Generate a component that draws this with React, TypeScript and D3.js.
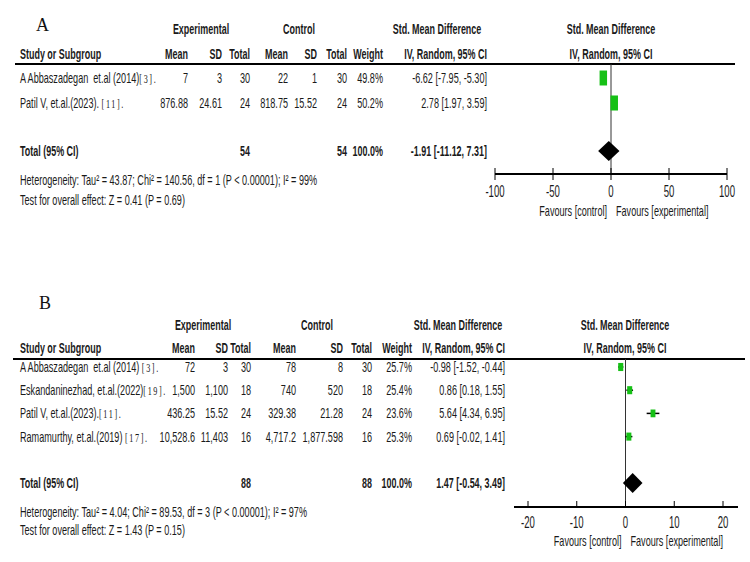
import React from "react";
import * as d3 from "d3";

// ---------- Panel A data ----------
const aStudies = ["A Abbaszadegan  et.al (2014)", "Patil V, et.al.(2023). "];
const aRefs = ["[3].", "[11]."];
const aExpMean = ["7", "876.88"];
const aExpSD = ["3", "24.61"];
const aExpN = [30, 24];
const aCtlMean = ["22", "818.75"];
const aCtlSD = ["1", "15.52"];
const aCtlN = [30, 24];
const aWeight = [49.8, 50.2];
const aSMD = [-6.62, 2.78];
const aLo = [-7.95, 1.97];
const aHi = [-5.3, 3.59];
const aTotals = [54, 54];
const aPooled = [-1.91, -11.12, 7.31];
const aHet = "Heterogeneity: Tau² = 43.87; Chi² = 140.56, df = 1 (P < 0.00001); I² = 99%";
const aTest = "Test for overall effect: Z = 0.41 (P = 0.69)";
const aTicks = [-100, -50, 0, 50, 100];
const aDomain = [-100, 100];

// ---------- Panel B data ----------
const bStudies = [
  "A Abbaszadegan  et.al (2014) ",
  "Eskandaninezhad, et.al.(2022)",
  "Patil V, et.al.(2023).",
  "Ramamurthy, et.al.(2019) ",
];
const bRefs = ["[3].", "[19].", "[11].", "[17]."];
const bExpMean = ["72", "1,500", "436.25", "10,528.6"];
const bExpSD = ["3", "1,100", "15.52", "11,403"];
const bExpN = [30, 18, 24, 16];
const bCtlMean = ["78", "740", "329.38", "4,717.2"];
const bCtlSD = ["8", "520", "21.28", "1,877.598"];
const bCtlN = [30, 18, 24, 16];
const bWeight = [25.7, 25.4, 23.6, 25.3];
const bSMD = [-0.98, 0.86, 5.64, 0.69];
const bLo = [-1.52, 0.18, 4.34, -0.02];
const bHi = [-0.44, 1.55, 6.95, 1.41];
const bTotals = [88, 88];
const bPooled = [1.47, -0.54, 3.49];
const bHet = "Heterogeneity: Tau² = 4.04; Chi² = 89.53, df = 3 (P < 0.00001); I² = 97%";
const bTest = "Test for overall effect: Z = 1.43 (P = 0.15)";
const bTicks = [-20, -10, 0, 10, 20];
const bDomain = [-20, 20];

// ---------- styling / layout ----------
const FONT = "'Liberation Sans', Arial, sans-serif";
const TXT = "#1a1a1a";
const GREEN = "#16c016";

function T({ x, y, children, anchor = "start", bold = false, size = 14, sx }: any) {
  const s = sx ?? (bold ? 0.64 : 0.65);
  return (
    <text
      transform={`translate(${x},${y}) scale(${s},1)`}
      textAnchor={anchor}
      fontWeight={bold ? 700 : 400}
      fontSize={size}
      fontFamily={FONT}
      fill={TXT}
      style={{ whiteSpace: "pre" }}
    >
      {children}
    </text>
  );
}

const fmt2 = (v: number) => v.toFixed(2);
const ciStr = (e: number, l: number, h: number) => `${fmt2(e)} [${fmt2(l)}, ${fmt2(h)}]`;

function Panel({ d, L }: any) {
  const x = d3.scaleLinear().domain(d.domain).range(L.range);
  const sqW = d3.scaleSqrt().domain([0, 100]).range([0, L.sqMax]);
  const rowY = (i: number) => L.rowY0 + i * L.rowStep;
  const c = L.cols;
  const [pe, pl, ph] = d.pooled;
  const diamond = d3.line()([
    [x(pl), L.totalY],
    [x(pe), L.totalY - L.dH],
    [x(ph), L.totalY],
    [x(pe), L.totalY + L.dH],
  ]) + "Z";
  const x0 = x(0);
  const b = 5;
  return (
    <g>
      <text x={L.letterX} y={L.letterY} fontFamily="'Liberation Serif', serif" fontSize={18} fill="#111">
        {L.letter}
      </text>
      <T x={L.expHdrX} y={L.hdr1Y} anchor="middle" bold>Experimental</T>
      <T x={L.ctlHdrX} y={L.hdr1Y} anchor="middle" bold>Control</T>
      <T x={L.ciHdrX} y={L.hdr1Y} anchor="middle" bold>Std. Mean Difference</T>
      <T x={L.plotHdrX} y={L.hdr1Y} anchor="middle" bold>Std. Mean Difference</T>
      <T x={L.nameX} y={L.hdr2Y} bold>Study or Subgroup</T>
      <T x={c.expMean} y={L.hdr2Y} anchor="end" bold>Mean</T>
      <T x={c.expSD} y={L.hdr2Y} anchor="end" bold>SD</T>
      <T x={c.expN} y={L.hdr2Y} anchor="end" bold>Total</T>
      <T x={c.ctlMean} y={L.hdr2Y} anchor="end" bold>Mean</T>
      <T x={c.ctlSD} y={L.hdr2Y} anchor="end" bold>SD</T>
      <T x={c.ctlN} y={L.hdr2Y} anchor="end" bold>Total</T>
      <T x={c.weight} y={L.hdr2Y} anchor="end" bold>Weight</T>
      <T x={c.ci} y={L.hdr2Y} anchor="end" bold>IV, Random, 95% CI</T>
      <T x={L.plotHdrX} y={L.hdr2Y} anchor="middle" bold>IV, Random, 95% CI</T>
      <line x1={L.lineX0} x2={L.lineX1} y1={L.lineY} y2={L.lineY} stroke="#000" strokeWidth={2} />

      {d.studies.map((s: string, i: number) => {
        const y = rowY(i) + b;
        return (
          <g key={i}>
            <T x={L.nameX} y={y}>
              {s}
              <tspan fontFamily="'Liberation Serif', serif" fontSize={12.5} letterSpacing={2.5}>{d.refs[i]}</tspan>
            </T>
            <T x={c.expMean} y={y} anchor="end">{d.expMean[i]}</T>
            <T x={c.expSD} y={y} anchor="end">{d.expSD[i]}</T>
            <T x={c.expN} y={y} anchor="end">{d.expN[i]}</T>
            <T x={c.ctlMean} y={y} anchor="end">{d.ctlMean[i]}</T>
            <T x={c.ctlSD} y={y} anchor="end">{d.ctlSD[i]}</T>
            <T x={c.ctlN} y={y} anchor="end">{d.ctlN[i]}</T>
            <T x={c.weight} y={y} anchor="end">{d.weight[i].toFixed(1) + "%"}</T>
            <T x={c.ci} y={y} anchor="end">{ciStr(d.smd[i], d.lo[i], d.hi[i])}</T>
          </g>
        );
      })}

      <T x={L.nameX} y={L.totalY + b} bold>Total (95% CI)</T>
      <T x={c.expN} y={L.totalY + b} anchor="end" bold>{d.totals[0]}</T>
      <T x={c.ctlN} y={L.totalY + b} anchor="end" bold>{d.totals[1]}</T>
      <T x={c.weight} y={L.totalY + b} anchor="end" bold>100.0%</T>
      <T x={c.ci} y={L.totalY + b} anchor="end" bold>{ciStr(pe, pl, ph)}</T>
      <T x={L.nameX} y={L.hetY}>{d.het}</T>
      <T x={L.nameX} y={L.testY}>{d.test}</T>

      {/* plot */}
      <line x1={x0} x2={x0} y1={L.lineY} y2={L.axisY} stroke="#333" strokeWidth={1} />
      {d.studies.map((s: string, i: number) => {
        const y = rowY(i);
        const w = sqW(d.weight[i]);
        const h = w * L.sqAspect;
        return (
          <g key={"m" + i}>
            <line x1={x(d.lo[i])} x2={x(d.hi[i])} y1={y} y2={y} stroke="#000" strokeWidth={1.5} />
            <rect x={x(d.smd[i]) - w / 2} y={y - h / 2} width={w} height={h} fill={GREEN} />
          </g>
        );
      })}
      <path d={diamond} fill="#000" />
      <line x1={L.axisX[0]} x2={L.axisX[1]} y1={L.axisY} y2={L.axisY} stroke="#000" strokeWidth={2} />
      {d.ticks.map((t: number) => (
        <g key={"t" + t}>
          <line x1={x(t)} x2={x(t)} y1={L.axisY - L.tickUp} y2={L.axisY + L.tickDown} stroke="#000" strokeWidth={1} />
          <T x={x(t)} y={L.tickLblY} anchor="middle" size={16} sx={0.6}>{t}</T>
        </g>
      ))}
      <T x={x0 - 4} y={L.favY} anchor="end">Favours [control]</T>
      <T x={x0 + 5} y={L.favY}>Favours [experimental]</T>
    </g>
  );
}

const dataA = {
  studies: aStudies, refs: aRefs, expMean: aExpMean, expSD: aExpSD, expN: aExpN,
  ctlMean: aCtlMean, ctlSD: aCtlSD, ctlN: aCtlN, weight: aWeight, smd: aSMD, lo: aLo, hi: aHi,
  totals: aTotals, pooled: aPooled, het: aHet, test: aTest, ticks: aTicks, domain: aDomain,
};
const dataB = {
  studies: bStudies, refs: bRefs, expMean: bExpMean, expSD: bExpSD, expN: bExpN,
  ctlMean: bCtlMean, ctlSD: bCtlSD, ctlN: bCtlN, weight: bWeight, smd: bSMD, lo: bLo, hi: bHi,
  totals: bTotals, pooled: bPooled, het: bHet, test: bTest, ticks: bTicks, domain: bDomain,
};

const layoutA = {
  letter: "A", letterX: 36, letterY: 31, nameX: 20,
  hdr1Y: 34, hdr2Y: 59, lineY: 64, lineX0: 15, lineX1: 735,
  rowY0: 78, rowStep: 25, totalY: 151, hetY: 185, testY: 205,
  axisY: 174, tickLblY: 197, favY: 216,
  cols: { expMean: 188, expSD: 222, expN: 250, ctlMean: 288, ctlSD: 317, ctlN: 347, weight: 383, ci: 487 },
  expHdrX: 201, ctlHdrX: 299, ciHdrX: 437, plotHdrX: 611,
  range: [495, 727], axisX: [495, 727], sqMax: 10.6, sqAspect: 2, dH: 10, tickUp: 6, tickDown: 6,
};
const layoutB = {
  letter: "B", letterX: 39, letterY: 309, nameX: 20,
  hdr1Y: 330, hdr2Y: 353, lineY: 359, lineX0: 13, lineX1: 745,
  rowY0: 367, rowStep: 23.2, totalY: 483, hetY: 517, testY: 535,
  axisY: 507, tickLblY: 528, favY: 546,
  cols: { expMean: 195, expSD: 228, expN: 251, ctlMean: 296, ctlSD: 343, ctlN: 372, weight: 412, ci: 505 },
  expHdrX: 203, ctlHdrX: 317, ciHdrX: 458, plotHdrX: 625,
  range: [528, 723], axisX: [514, 738], sqMax: 10, sqAspect: 1.6, dH: 10, tickUp: 6, tickDown: 1,
};

export default function App() {
  return (
    <svg width={750} height={562} style={{ position: "absolute", left: 0, top: 0, background: "#fff" }}>
      <rect x={0} y={0} width={750} height={562} fill="#fff" />
      <Panel d={dataA} L={layoutA} />
      <Panel d={dataB} L={layoutB} />
    </svg>
  );
}
